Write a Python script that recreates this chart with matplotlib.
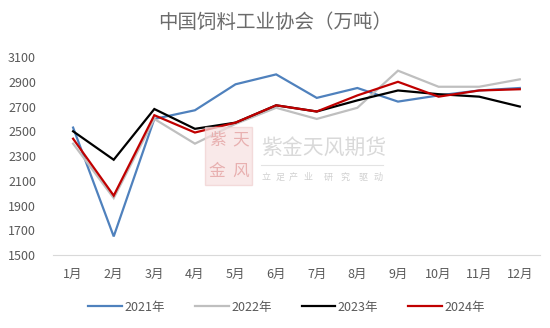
import matplotlib
matplotlib.use('Agg')
import matplotlib.pyplot as plt
from matplotlib.patches import Rectangle

plt.rcParams['font.family'] = ['Noto Sans CJK SC', 'DejaVu Sans']

# Monthly feed output (10k tonnes)
months = ['1月', '2月', '3月', '4月', '5月', '6月', '7月', '8月', '9月', '10月', '11月', '12月']
y2021 = [2530, 1650, 2600, 2670, 2880, 2960, 2770, 2850, 2740, 2790, 2830, 2850]
y2022 = [2400, 1960, 2600, 2400, 2560, 2690, 2600, 2690, 2990, 2860, 2860, 2920]
y2023 = [2500, 2270, 2680, 2520, 2570, 2710, 2660, 2750, 2830, 2800, 2780, 2700]
y2024 = [2440, 1980, 2630, 2490, 2570, 2710, 2660, 2790, 2900, 2780, 2830, 2840]

series = [
    ('2021年', y2021, '#4f81bd'),
    ('2022年', y2022, '#bfbfbf'),
    ('2023年', y2023, '#000000'),
    ('2024年', y2024, '#c00000'),
]

fig = plt.figure(figsize=(5.5, 3.28), dpi=100)
ax = fig.add_axes([0.096, 0.2226, 0.886, 0.6034])

x = range(len(months))
for label, vals, color in series:
    ax.plot(x, vals, color=color, linewidth=1.6, label=label, solid_joinstyle='miter')

ax.set_xlim(-0.5, len(months) - 0.5)
ax.set_ylim(1500, 3100)
ax.set_yticks(range(1500, 3101, 200))
ax.set_xticks(list(x))
ax.set_xticklabels(months)
ax.tick_params(axis='both', length=0, labelsize=9, colors='#595959')
ax.tick_params(axis='x', pad=9)
ax.tick_params(axis='y', pad=12)

for side in ['top', 'right', 'left']:
    ax.spines[side].set_visible(False)
ax.spines['bottom'].set_color('#d9d9d9')

fig.text(0.5, 0.932, '中国饲料工业协会（万吨）', ha='center', va='center',
         fontsize=14, color='#6b6b6b')

# watermark
fig.patches.append(Rectangle((0.373, 0.436), 0.085, 0.177, transform=fig.transFigure,
                             facecolor='#f7e0e0', edgecolor='#f0d0d0', alpha=0.7, zorder=0))
for ch, cx, cy in [('紫', 0.395, 0.572), ('天', 0.437, 0.572),
                   ('金', 0.395, 0.478), ('风', 0.437, 0.478)]:
    fig.text(cx, cy, ch, fontsize=12, color='#e8b0b0', ha='center', va='center')
fig.text(0.474, 0.549, '紫金天风期货', fontsize=15, color='#d9d9d9', ha='left', va='center')
fig.lines.append(plt.Line2D([0.474, 0.697], [0.497, 0.497], transform=fig.transFigure,
                            color='#e3e3e3', linewidth=0.8))
for ch, px in zip('立足产业研究驱动', [266, 280, 293, 308, 328, 345, 363, 378]):
    fig.text(px / 550, 0.46, ch, fontsize=6.5, color='#d0d0d0', ha='center', va='center')

ax.legend(loc='upper center', bbox_to_anchor=(0.48, -0.175), ncol=4, frameon=False,
          fontsize=9, labelcolor='#595959', handlelength=2.7, columnspacing=2.4,
          handletextpad=0.2)

fig.savefig('out.png', dpi=100)
